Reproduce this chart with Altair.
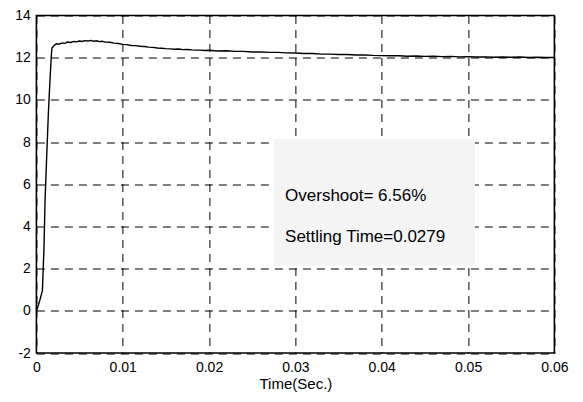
import altair as alt
import pandas as pd

# Step response (time in seconds, output value)
time = [0.0, 0.0001, 0.0004, 0.0007, 0.00075, 0.00088, 0.0010, 0.0012, 0.00138, 0.00158, 0.00173, 0.0018,
        0.0020, 0.0023, 0.0026, 0.0030, 0.0033, 0.0036, 0.0040, 0.0043, 0.0046, 0.0050, 0.0053, 0.0056,
        0.0060, 0.0063, 0.0066, 0.0070, 0.0073, 0.0076, 0.0080, 0.0085, 0.0090, 0.0095, 0.0100,
        0.0105, 0.0110, 0.0115, 0.0120, 0.0125, 0.0130, 0.0135, 0.0140, 0.0145, 0.0150, 0.0155,
        0.0160, 0.0165, 0.0170, 0.0175, 0.0180, 0.0185, 0.0190, 0.0195, 0.0200, 0.0210, 0.0220,
        0.0230, 0.0240, 0.0250, 0.0260, 0.0270, 0.0280, 0.0290, 0.0300, 0.0310, 0.0320, 0.0330,
        0.0340, 0.0350, 0.0360, 0.0370, 0.0380, 0.0390, 0.0400, 0.0410, 0.0420, 0.0430, 0.0440,
        0.0450, 0.0460, 0.0470, 0.0480, 0.0490, 0.0500, 0.0510, 0.0520, 0.0530, 0.0540, 0.0550,
        0.0560, 0.0570, 0.0580, 0.0590, 0.0600]
output = [0.0, 0.1, 0.5, 0.97, 1.6, 3.0, 5.2, 7.4, 9.3, 11.0, 12.1, 12.46,
          12.55, 12.66, 12.64, 12.70, 12.68, 12.74, 12.72, 12.77, 12.75, 12.79, 12.77, 12.81,
          12.79, 12.82, 12.78, 12.80, 12.76, 12.78, 12.74, 12.73, 12.69, 12.67, 12.63,
          12.62, 12.58, 12.57, 12.54, 12.53, 12.50, 12.49, 12.46, 12.45, 12.43, 12.42,
          12.40, 12.41, 12.38, 12.39, 12.37, 12.36, 12.36, 12.34, 12.35, 12.32, 12.33,
          12.30, 12.30, 12.27, 12.27, 12.25, 12.25, 12.23, 12.22, 12.20, 12.20, 12.17,
          12.17, 12.15, 12.15, 12.13, 12.13, 12.11, 12.10, 12.09, 12.09, 12.07, 12.08,
          12.06, 12.07, 12.05, 12.06, 12.04, 12.05, 12.03, 12.04, 12.02, 12.03, 12.02,
          12.03, 12.01, 12.02, 12.01, 12.01]

x_ticks = [0, 0.01, 0.02, 0.03, 0.04, 0.05, 0.06]
y_ticks = [-2, 0, 2, 4, 6, 8, 10, 12, 14]

# annotation box and texts (data coordinates)
box_x = [0.0275]
box_x2 = [0.0508]
box_y = [8.15]
box_y2 = [2.15]
note_x = [0.0288, 0.0288]
note_y = [5.19, 3.25]
note_text = ["Overshoot= 6.56%", "Settling Time=0.0279"]

df = pd.DataFrame({"t": time, "v": output})
box_df = pd.DataFrame({"x": box_x, "x2": box_x2, "y": box_y, "y2": box_y2})
note_df = pd.DataFrame({"x": note_x, "y": note_y, "label": note_text})

FONT = "Liberation Sans"

xscale = alt.Scale(domain=[0, 0.06], nice=False, zero=False)
yscale = alt.Scale(domain=[-2, 14], nice=False, zero=False)

xaxis = alt.Axis(values=x_ticks, labelExpr="'' + datum.value", title="Time(Sec.)", grid=True,
                 gridDash=[8, 6], gridColor="black", gridOpacity=1, gridWidth=1,
                 ticks=False, domain=False, labelFont=FONT, labelFontSize=14,
                 labelColor="black", labelPadding=7, titleFont=FONT, titleFontSize=15,
                 titleFontWeight="normal", titleColor="black", titlePadding=2,
                 labelFlush=False)
yaxis = alt.Axis(values=y_ticks, labelExpr="'' + datum.value", title=None, grid=True,
                 gridDash=[8, 6], gridColor="black", gridOpacity=1, gridWidth=1,
                 ticks=False, domain=False, labelFont=FONT, labelFontSize=14,
                 labelColor="black", labelPadding=6, labelFlush=False)

line = alt.Chart(df).mark_line(color="black", strokeWidth=1.4, clip=True).encode(
    x=alt.X("t:Q", scale=xscale, axis=xaxis),
    y=alt.Y("v:Q", scale=yscale, axis=yaxis),
)

box = alt.Chart(box_df).mark_rect(color="#f4f4f4").encode(
    x=alt.X("x:Q", scale=xscale), x2="x2:Q",
    y=alt.Y("y:Q", scale=yscale), y2="y2:Q",
)

notes = alt.Chart(note_df).mark_text(align="left", baseline="alphabetic", font=FONT,
                                     fontSize=17, color="black").encode(
    x=alt.X("x:Q", scale=xscale),
    y=alt.Y("y:Q", scale=yscale),
    text="label:N",
)

chart = alt.layer(line, box, notes).properties(
    width=518, height=337.5,
    autosize=alt.AutoSizeParams(type="none"),
    padding={"left": 28.4, "top": 7.5, "right": 20.6, "bottom": 41},
    background="white",
).configure_view(stroke="black", strokeWidth=1.6)

chart.save("out.html", embed_options={"renderer": "svg", "actions": False})
